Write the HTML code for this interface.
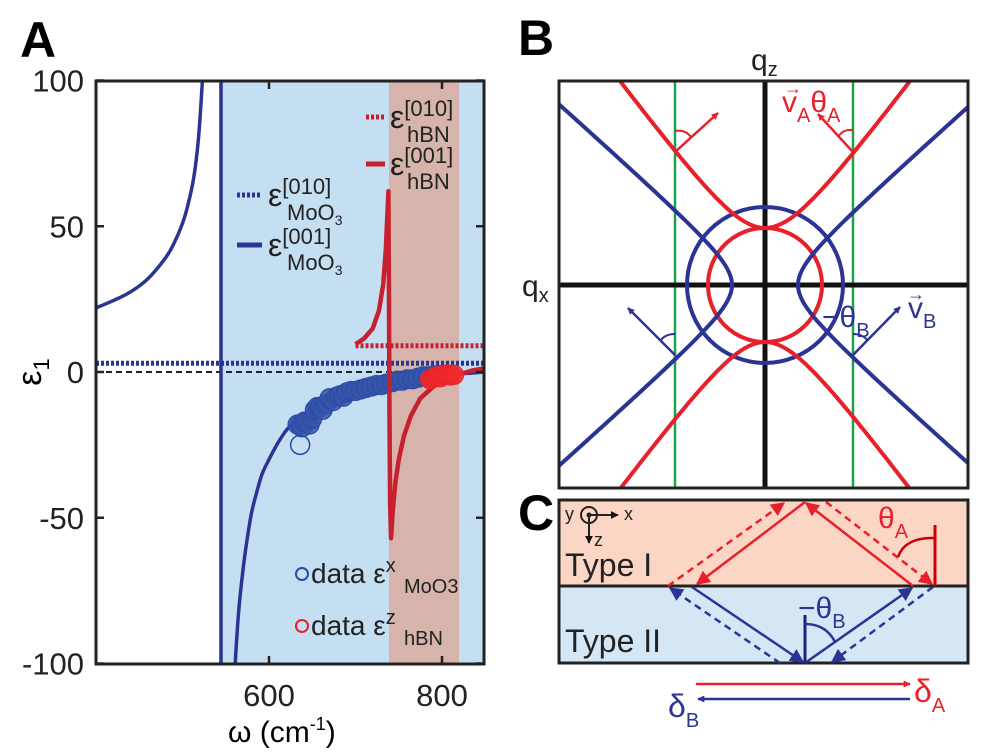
<!DOCTYPE html>
<html><head><meta charset="utf-8"><style>
html,body{margin:0;padding:0;background:#fff}
svg{display:block;font-family:"Liberation Sans",sans-serif}
</style></head><body>
<svg id="fig" width="982" height="753" viewBox="0 0 982 753" xmlns="http://www.w3.org/2000/svg">
<defs>
<clipPath id="clipA"><rect x="96" y="81" width="388" height="583"/></clipPath>
<clipPath id="clipB"><rect x="559" y="81" width="409" height="407"/></clipPath>
<marker id="arR" viewBox="0 0 10 10" refX="9" refY="5" markerWidth="7" markerHeight="7" orient="auto" markerUnits="userSpaceOnUse"><path d="M0,0 L10,5 L0,10 z" fill="#e8202a"/></marker>
<marker id="arB" viewBox="0 0 10 10" refX="9" refY="5" markerWidth="7" markerHeight="7" orient="auto" markerUnits="userSpaceOnUse"><path d="M0,0 L10,5 L0,10 z" fill="#2b3494"/></marker>
<marker id="arR2" viewBox="0 0 10 10" refX="9" refY="5" markerWidth="16" markerHeight="14" orient="auto" markerUnits="userSpaceOnUse"><path d="M0,0 L10,5 L0,10 z" fill="#e8202a"/></marker>
<marker id="arB2" viewBox="0 0 10 10" refX="9" refY="5" markerWidth="16" markerHeight="14" orient="auto" markerUnits="userSpaceOnUse"><path d="M0,0 L10,5 L0,10 z" fill="#2b3494"/></marker>
<marker id="arK" viewBox="0 0 10 10" refX="9" refY="5" markerWidth="8" markerHeight="8" orient="auto" markerUnits="userSpaceOnUse"><path d="M0,0 L10,5 L0,10 z" fill="#111"/></marker>
</defs>

<text x="20" y="57" font-size="50" font-weight="bold">A</text>
<text x="518" y="55" font-size="50" font-weight="bold">B</text>
<text x="518" y="530" font-size="50" font-weight="bold">C</text>

<g id="panelA">
  <rect x="219" y="81" width="265" height="583" fill="#c5dff2"/>
  <rect x="389" y="81" width="70" height="583" fill="#d6b3ab"/>
  <g id="marksA" clip-path="url(#clipA)"></g>
  <rect x="96" y="81" width="388" height="583" fill="none" stroke="#222" stroke-width="3"/>
  <g id="ticksA"></g>
  <text x="372" y="40" font-size="34" text-anchor="middle" transform="rotate(-90 372 372) translate(0 0)" id="ylab">ε<tspan font-size="22" dy="8">1</tspan></text>
  <text x="228" y="742" font-size="30">ω (cm<tspan font-size="18" dy="-12">-1</tspan><tspan dy="12">)</tspan></text>
  <g>
    <line x1="237" y1="195" x2="262" y2="195" stroke="#2b3494" stroke-width="5" stroke-dasharray="3,2"/>
    <text x="268" y="206" font-size="32" fill="#222">ε<tspan font-size="22" dy="-12">[010]</tspan><tspan font-size="22" x="287" dy="26">MoO</tspan><tspan font-size="14" dy="5">3</tspan></text>
  </g>
  <g>
    <line x1="237" y1="245" x2="262" y2="245" stroke="#2b3494" stroke-width="5"/>
    <text x="268" y="256" font-size="32" fill="#222">ε<tspan font-size="22" dy="-12">[001]</tspan><tspan font-size="22" x="287" dy="26">MoO</tspan><tspan font-size="14" dy="5">3</tspan></text>
  </g>
  <g>
    <line x1="366" y1="117" x2="385" y2="117" stroke="#c8202f" stroke-width="5" stroke-dasharray="3,2"/>
    <text x="390" y="128" font-size="32" fill="#222">ε<tspan font-size="22" dy="-12">[010]</tspan><tspan font-size="22" x="407" dy="26">hBN</tspan></text>
  </g>
  <g>
    <line x1="366" y1="164" x2="385" y2="164" stroke="#c8202f" stroke-width="5"/>
    <text x="390" y="175" font-size="32" fill="#222">ε<tspan font-size="22" dy="-12">[001]</tspan><tspan font-size="22" x="407" dy="26">hBN</tspan></text>
  </g>
  <g>
    <circle cx="302" cy="574" r="6" fill="none" stroke="#2b4aa8" stroke-width="2"/>
    <text x="311" y="583" font-size="28" fill="#222">data ε<tspan font-size="20" dy="-11">x</tspan><tspan font-size="20" x="404" dy="21">MoO3</tspan></text>
  </g>
  <g>
    <circle cx="302" cy="626" r="6" fill="none" stroke="#e8202a" stroke-width="2"/>
    <text x="311" y="635" font-size="28" fill="#222">data ε<tspan font-size="20" dy="-11">z</tspan><tspan font-size="20" x="404" dy="21">hBN</tspan></text>
  </g>
</g>

<g id="panelB">
  <g id="marksB" clip-path="url(#clipB)"></g>
  <rect x="559" y="81" width="409" height="407" fill="none" stroke="#222" stroke-width="3"/>
  <text x="751" y="70" font-size="30" fill="#222">q<tspan font-size="20" dy="6">z</tspan></text>
  <text x="522" y="296" font-size="30" fill="#222">q<tspan font-size="20" dy="6">x</tspan></text>
  <text x="782" y="112" font-size="30" fill="#e8202a">v<tspan font-size="20" dy="10">A</tspan><tspan dy="-10">θ</tspan><tspan font-size="20" dy="10">A</tspan></text>
  <text x="784" y="94" font-size="18" fill="#e8202a">→</text>
  <text x="822" y="327" font-size="30" fill="#2b3494">−θ<tspan font-size="20" dy="10">B</tspan></text>
  <text x="908" y="318" font-size="30" fill="#2b3494">v<tspan font-size="20" dy="10">B</tspan></text>
  <text x="907" y="300" font-size="18" fill="#2b3494">→</text>
</g>

<g id="panelC">
  <rect x="559" y="500" width="409" height="86" fill="#fbd6c4"/>
  <rect x="559" y="586" width="409" height="77" fill="#d5e6f5"/>
  <rect x="559" y="500" width="409" height="163" fill="none" stroke="#222" stroke-width="3"/>
  <line x1="559" y1="586" x2="968" y2="586" stroke="#222" stroke-width="3"/>
  <text x="565" y="576" font-size="32" fill="#222">Type I</text>
  <text x="565" y="652" font-size="32" fill="#222">Type II</text>
  <g>
    <text x="565" y="520" font-size="18" fill="#222">y</text>
    <circle cx="589" cy="515" r="8" fill="none" stroke="#222" stroke-width="2"/>
    <circle cx="589" cy="515" r="2.5" fill="#222"/>
    <line x1="589" y1="515" x2="618" y2="515" stroke="#222" stroke-width="2" marker-end="url(#arK)"/>
    <line x1="589" y1="515" x2="589" y2="543" stroke="#222" stroke-width="2" marker-end="url(#arK)"/>
    <text x="624" y="520" font-size="18" fill="#222">x</text>
    <text x="594" y="546" font-size="18" fill="#222">z</text>
  </g>
  <line x1="805" y1="502" x2="697" y2="584" stroke="#e8202a" stroke-width="2.5" marker-end="url(#arR2)"/>
  <line x1="668" y1="586" x2="784" y2="503" stroke="#e8202a" stroke-width="2.5" stroke-dasharray="7,5" marker-end="url(#arR2)"/>
  <line x1="913" y1="586" x2="806" y2="503" stroke="#e8202a" stroke-width="2.5" marker-end="url(#arR2)"/>
  <line x1="826" y1="502" x2="932" y2="584" stroke="#e8202a" stroke-width="2.5" stroke-dasharray="7,5" marker-end="url(#arR2)"/>
  <line x1="935" y1="525" x2="935" y2="586" stroke="#c00" stroke-width="3"/>
  <path d="M898,557 Q905,537 935,538" fill="none" stroke="#c00" stroke-width="2.5"/>
  <text x="878" y="528" font-size="30" fill="#e8202a">θ<tspan font-size="20" dy="10">A</tspan></text>
  <line x1="692" y1="587" x2="803" y2="662" stroke="#2b3494" stroke-width="2.5" marker-end="url(#arB2)"/>
  <line x1="780" y1="663" x2="670" y2="588" stroke="#2b3494" stroke-width="2.5" stroke-dasharray="7,5" marker-end="url(#arB2)"/>
  <line x1="805" y1="663" x2="912" y2="588" stroke="#2b3494" stroke-width="2.5" marker-end="url(#arB2)"/>
  <line x1="933" y1="587" x2="832" y2="662" stroke="#2b3494" stroke-width="2.5" stroke-dasharray="7,5" marker-end="url(#arB2)"/>
  <line x1="805" y1="615" x2="805" y2="663" stroke="#1a237e" stroke-width="3"/>
  <path d="M805,624 Q826,624 835,642" fill="none" stroke="#2b3494" stroke-width="2.5"/>
  <text x="798" y="618" font-size="30" fill="#2b3494">−θ<tspan font-size="20" dy="10">B</tspan></text>
  <line x1="696" y1="684" x2="910" y2="684" stroke="#e8202a" stroke-width="2.5" marker-end="url(#arR)"/>
  <line x1="910" y1="699" x2="698" y2="699" stroke="#2b3494" stroke-width="2.5" marker-end="url(#arB)"/>
  <text x="914" y="702" font-size="32" fill="#e8202a">δ<tspan font-size="20" dy="10">A</tspan></text>
  <text x="668" y="717" font-size="32" fill="#2b3494">δ<tspan font-size="20" dy="10">B</tspan></text>
</g>

<script>
const moUpperW = [400, 420, 440, 460, 480, 490, 500, 506, 512, 516, 519, 522, 524, 526];
const moUpperE = [22, 24.5, 27.5, 32, 39, 44, 51, 57, 65, 73, 82, 95, 106, 120];
const moLowerW = [559, 561, 563, 565, 568, 572, 576, 580, 586, 592, 600, 610, 620, 630, 640, 660, 680, 700, 740, 780, 820, 850];
const moLowerE = [-115, -100, -90, -82, -73, -63, -55, -48, -41, -35, -30, -24.5, -20, -17, -14.5, -11, -8.5, -6.5, -3.8, -2.0, -0.7, 0];
const hbnW = [700, 710, 720, 727, 732, 735, 737, 738, 738.6, 739.2, 740, 741, 743, 746, 750, 756, 764, 775, 790, 805, 820, 835, 850];
const hbnE = [9.5, 11.5, 15, 21, 30, 42, 55, 62, 30, -10, -45, -57, -48, -38, -30, -22, -15, -9, -5, -2.5, -0.8, 0.5, 1.3];
const moDataW = [633, 636, 638, 641, 644, 647, 650, 653, 656, 659, 662, 666, 670, 674, 678, 682, 686, 690, 695, 700, 706, 712, 718, 724, 730, 736, 742, 748, 754, 760, 766, 772, 778, 784, 790, 796];
const moDataE = [-18, -18, -19, -17, -17, -18, -16, -13, -12, -12, -13, -11, -9, -10, -8.5, -8, -8.5, -7, -6.5, -6.5, -6, -5.5, -5, -4.5, -4.5, -4, -3.5, -3, -3, -2.5, -2.5, -2, -1.5, -1.5, -1.2, -1];
const moOutlierW = [636];
const moOutlierE = [-25];
const hbnDataW = [786, 790, 794, 798, 802, 806, 810, 814];
const hbnDataE = [-2.5, -2, -1.5, -1.8, -1, -0.8, -1.2, -1];
const xTicks = [600, 800];
const yTicks = [100, 50, 0, -50, -100];
const yTickLabels = ["100", "50", "0", "-50", "-100"];
const moInplaneEps = 3;
const hbnInplaneEps = 9;
const hbnInplaneStart = 700;

const NS = "http://www.w3.org/2000/svg";
function xA(w){ return 96 + (w - 400) * 0.865; }
function yA(e){ return 372 - e * 2.915; }
function mk(tag, attrs, parent){
  const el = document.createElementNS(NS, tag);
  for (const k in attrs) el.setAttribute(k, attrs[k]);
  parent.appendChild(el);
  return el;
}
function smoothPath(ws, es){
  const p = ws.map((w,i)=>[xA(w), yA(es[i])]);
  let d = "M" + p[0][0].toFixed(1) + "," + p[0][1].toFixed(1);
  for (let i = 0; i < p.length - 1; i++){
    const p0 = p[Math.max(0,i-1)], p1 = p[i], p2 = p[i+1], p3 = p[Math.min(p.length-1,i+2)];
    const c1 = [p1[0] + (p2[0]-p0[0])/6, p1[1] + (p2[1]-p0[1])/6];
    const c2 = [p2[0] - (p3[0]-p1[0])/6, p2[1] - (p3[1]-p1[1])/6];
    d += " C" + c1[0].toFixed(1) + "," + c1[1].toFixed(1) + " " + c2[0].toFixed(1) + "," + c2[1].toFixed(1) + " " + p2[0].toFixed(1) + "," + p2[1].toFixed(1);
  }
  return d;
}
function linePath(ws, es){
  return ws.map((w,i)=>(i?"L":"M")+xA(w).toFixed(1)+","+yA(es[i]).toFixed(1)).join(" ");
}
// y-axis title position
const yl = document.getElementById("ylab");
yl.setAttribute("x", 30); yl.setAttribute("y", 383);
yl.setAttribute("transform", "rotate(-90 30 372)");

const mA = document.getElementById("marksA");
let el;
el = mk("line", {x1:xA(400), y1:yA(0), x2:xA(850), y2:yA(0), stroke:"#222", "stroke-width":2, "stroke-dasharray":"6,4"}, mA);


el = mk("line", {x1:xA(400), y1:yA(moInplaneEps), x2:xA(850), y2:yA(moInplaneEps), stroke:"#2b3494", "stroke-width":5, "stroke-dasharray":"3,2"}, mA);


el = mk("line", {x1:xA(hbnInplaneStart), y1:yA(hbnInplaneEps), x2:xA(850), y2:yA(hbnInplaneEps), stroke:"#c8202f", "stroke-width":5, "stroke-dasharray":"3,2"}, mA);


el = mk("line", {x1:221, y1:81, x2:221, y2:664, stroke:"#2b3494", "stroke-width":3.5}, mA);


el = mk("path", {d:smoothPath(moUpperW, moUpperE), fill:"none", stroke:"#2b3494", "stroke-width":3.5}, mA);


el = mk("path", {d:smoothPath(moLowerW, moLowerE), fill:"none", stroke:"#2b3494", "stroke-width":3.5}, mA);


moDataW.forEach((w,i)=>{
  const c = mk("circle", {cx:xA(w), cy:yA(moDataE[i]), r:9.5, fill:"#3656a8", "fill-opacity":0.85, stroke:"#2b4aa8", "stroke-width":1.2}, mA);
  
  
});
moOutlierW.forEach((w,i)=>{
  const c = mk("circle", {cx:xA(w), cy:yA(moOutlierE[i]), r:9.5, fill:"none", stroke:"#2b4aa8", "stroke-width":1.5}, mA);
  
  
});
el = mk("path", {d:linePath(hbnW, hbnE), fill:"none", stroke:"#c8202f", "stroke-width":4.5, "stroke-linejoin":"round"}, mA);


hbnDataW.forEach((w,i)=>{
  const c = mk("circle", {cx:xA(w), cy:yA(hbnDataE[i]), r:9.5, fill:"#ee2a2a", "fill-opacity":0.9, stroke:"#e8202a", "stroke-width":1}, mA);
  
  
});
const tA = document.getElementById("ticksA");
yTicks.forEach((v,i)=>{
  const t = mk("text", {x:84, y:yA(v)+11, "font-size":31, "text-anchor":"end", fill:"#222"}, tA);
  t.textContent = yTickLabels[i];
  
  
  const l1 = mk("line", {x1:96, y1:yA(v), x2:104, y2:yA(v), stroke:"#222", "stroke-width":2.5}, tA);
  
  
  const l2 = mk("line", {x1:476, y1:yA(v), x2:484, y2:yA(v), stroke:"#222", "stroke-width":2.5}, tA);
  
  
});
xTicks.forEach(v=>{
  const t = mk("text", {x:xA(v), y:706, "font-size":31, "text-anchor":"middle", fill:"#222"}, tA);
  t.textContent = String(v);
  
  
  const l1 = mk("line", {x1:xA(v), y1:664, x2:xA(v), y2:656, stroke:"#222", "stroke-width":2.5}, tA);
  
  
  const l2 = mk("line", {x1:xA(v), y1:81, x2:xA(v), y2:89, stroke:"#222", "stroke-width":2.5}, tA);
  
  
});

const cx = 765, cz = 285;
const mB = document.getElementById("marksB");
function addB(tag, attrs, name){
  const e = mk(tag, attrs, mB);
  
  
  return e;
}
addB("line", {x1:675, y1:81, x2:675, y2:488, stroke:"#1aa34a", "stroke-width":2.5}, "green-line-left");
addB("line", {x1:853, y1:81, x2:853, y2:488, stroke:"#1aa34a", "stroke-width":2.5}, "green-line-right");
addB("line", {x1:cx, y1:81, x2:cx, y2:488, stroke:"#111", "stroke-width":5}, "qz-axis");
addB("line", {x1:559, y1:cz, x2:968, y2:cz, stroke:"#111", "stroke-width":5}, "qx-axis");
addB("circle", {cx:cx, cy:cz, r:78, fill:"none", stroke:"#2b3494", "stroke-width":4}, "blue-circle");
addB("circle", {cx:cx, cy:cz, r:57, fill:"none", stroke:"#e8202a", "stroke-width":4}, "red-circle");
function hyp(sign, vertical){
  let d = "";
  for (let t = -220; t <= 220; t += 4){
    let px, pz;
    if (vertical){ px = cx + t; pz = cz + sign * Math.sqrt(57*57 + 1.825*t*t); }
    else { pz = cz + t; px = cx + sign * Math.sqrt(33*33 + 1.266*t*t); }
    d += (d ? "L" : "M") + px.toFixed(1) + "," + pz.toFixed(1);
  }
  return d;
}
addB("path", {d:hyp(-1,true), fill:"none", stroke:"#e8202a", "stroke-width":4}, "red-hyperbola-top");
addB("path", {d:hyp(1,true), fill:"none", stroke:"#e8202a", "stroke-width":4}, "red-hyperbola-bottom");
addB("path", {d:hyp(-1,false), fill:"none", stroke:"#2b3494", "stroke-width":4}, "blue-hyperbola-left");
addB("path", {d:hyp(1,false), fill:"none", stroke:"#2b3494", "stroke-width":4}, "blue-hyperbola-right");
addB("line", {x1:675, y1:152, x2:718, y2:113, stroke:"#e8202a", "stroke-width":2.5, "marker-end":"url(#arR)"}, "group-velocity-arrow-a-left");
addB("line", {x1:853, y1:152, x2:818, y2:114, stroke:"#e8202a", "stroke-width":2.5, "marker-end":"url(#arR)"}, "group-velocity-arrow-a-right");
addB("line", {x1:675, y1:355, x2:628, y2:308, stroke:"#2b3494", "stroke-width":2.5, "marker-end":"url(#arB)"}, "group-velocity-arrow-b-left");
addB("line", {x1:853, y1:355, x2:900, y2:307, stroke:"#2b3494", "stroke-width":2.5, "marker-end":"url(#arB)"}, "group-velocity-arrow-b-right");
addB("path", {d:"M675,131 Q685,129 691,137", fill:"none", stroke:"#e8202a", "stroke-width":2}, "angle-arc-a-left");
addB("path", {d:"M853,130 Q843,129 838,137", fill:"none", stroke:"#e8202a", "stroke-width":2}, "angle-arc-a-right");
addB("path", {d:"M675,334 Q665,334 660,341", fill:"none", stroke:"#2b3494", "stroke-width":2}, "angle-arc-b-left");
addB("path", {d:"M853,334 Q863,334 868,341", fill:"none", stroke:"#2b3494", "stroke-width":2}, "angle-arc-b-right");
</script>
</svg>
</body></html>
